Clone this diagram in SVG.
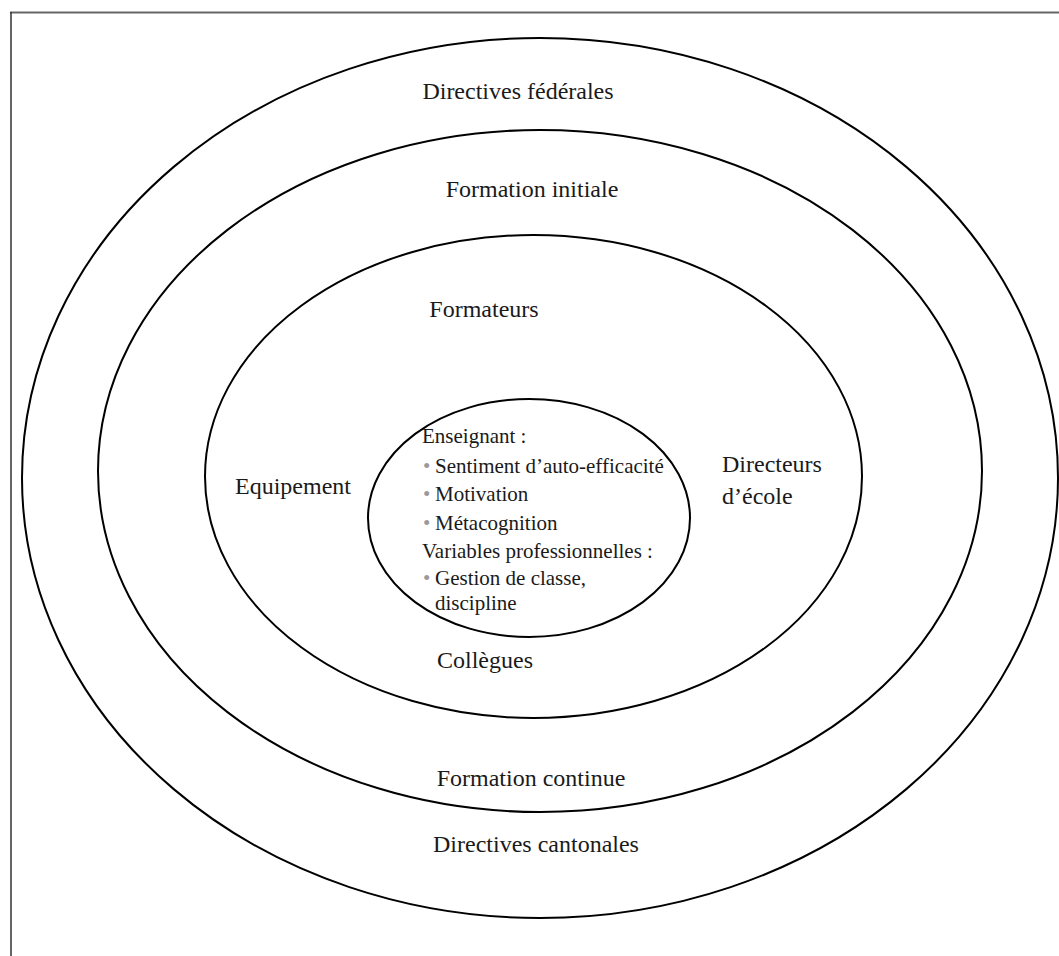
<svg xmlns="http://www.w3.org/2000/svg" width="1059" height="956" viewBox="0 0 1059 956">
<style>
.ring{fill:none;stroke:#000;stroke-width:2}
.lbl{font-family:"Liberation Serif","Times New Roman",serif;font-size:24px;fill:#1a1a1a}
.in{font-family:"Liberation Serif","Times New Roman",serif;font-size:21px;fill:#1a1a1a}
.bul{fill:#9a9a9a}
</style>
<rect width="1059" height="956" fill="#fff"/>
<g id="frame">
<line x1="10" y1="12.5" x2="1059" y2="12.5" stroke="#666" stroke-width="2"/>
<line x1="11" y1="12" x2="11" y2="956" stroke="#333" stroke-width="1.5"/>
</g>
<g id="ring-federal">
<ellipse class="ring" cx="540" cy="478" rx="518" ry="440"/>
<text class="lbl" x="518" y="99" text-anchor="middle">Directives fédérales</text>
<text class="lbl" x="536" y="852" text-anchor="middle">Directives cantonales</text>
</g>
<g id="ring-formation">
<ellipse class="ring" cx="540" cy="471" rx="442" ry="341"/>
<text class="lbl" x="532" y="197" text-anchor="middle">Formation initiale</text>
<text class="lbl" x="531" y="786" text-anchor="middle">Formation continue</text>
</g>
<g id="ring-school">
<ellipse class="ring" cx="533.5" cy="476.5" rx="328.5" ry="241.5"/>
<text class="lbl" x="484" y="317" text-anchor="middle">Formateurs</text>
<text class="lbl" x="235" y="494">Equipement</text>
<text class="lbl" x="722" y="472">Directeurs</text>
<text class="lbl" x="722" y="504">d’école</text>
<text class="lbl" x="485" y="668" text-anchor="middle">Collègues</text>
</g>
<g id="teacher">
<ellipse class="ring" cx="529" cy="518" rx="161" ry="119"/>
<text class="in" x="422" y="443">Enseignant :</text>
<text class="in" x="423" y="473"><tspan class="bul">•</tspan><tspan x="435">Sentiment d’auto-efficacité</tspan></text>
<text class="in" x="423" y="501"><tspan class="bul">•</tspan><tspan x="435">Motivation</tspan></text>
<text class="in" x="423" y="530"><tspan class="bul">•</tspan><tspan x="435">Métacognition</tspan></text>
<text class="in" x="422" y="558">Variables professionnelles :</text>
<text class="in" x="423" y="585"><tspan class="bul">•</tspan><tspan x="435">Gestion de classe,</tspan></text>
<text class="in" x="435" y="610">discipline</text>
</g>
</svg>
